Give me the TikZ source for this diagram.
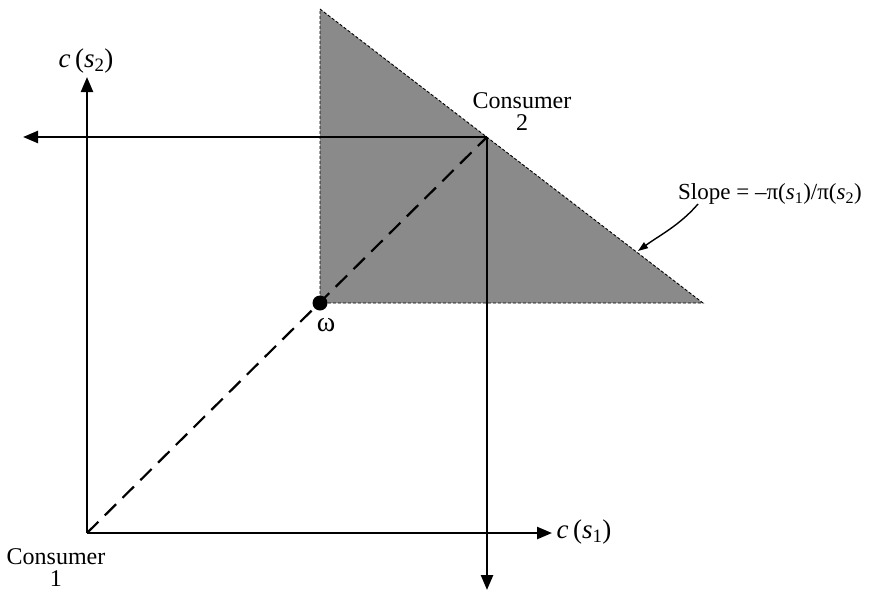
\documentclass[tikz,border=0pt]{standalone}
\usepackage{fontspec}
\setmainfont{Liberation Serif}
\usetikzlibrary{arrows.meta}
\definecolor{shade}{RGB}{138,138,138}
\tikzset{
  axis/.style={line width=2.4pt,-{Triangle[length=15pt,width=12pt]}},
  lbl/.style={font=\fontsize{24}{26}\selectfont, inner sep=0pt, align=center},
  tri/.style={fill=shade, draw=black, line width=0.9pt, dash pattern=on 3pt off 2pt},
  diag/.style={line width=2.2pt, dash pattern=on 16pt off 9pt}
}
\begin{document}
\begin{tikzpicture}[x=1pt,y=-1pt]
\useasboundingbox (0,0) rectangle (871,592);
% coordinates
\coordinate (o1) at (87,533);
\coordinate (o2) at (487,137);
\coordinate (ta) at (320,9);
\coordinate (tb) at (320,303);
\coordinate (tc) at (703,303);
\coordinate (yend) at (87,77);
\coordinate (xend) at (552,533);
\coordinate (lend) at (23,137);
\coordinate (dend) at (487,590);
% triangle
\draw[tri] (ta) -- (tc) -- (tb) -- cycle;
% axes
\draw[axis] (o1) -- (yend);
\draw[axis] (o1) -- (xend);
\draw[axis] (o2) -- (lend);
\draw[axis] (o2) -- (dend);
% diagonal
\draw[diag] (o1) -- (o2);
% endowment
\fill (tb) circle (7.5pt);
\node[lbl, font=\fontsize{28}{30}\selectfont] (wl) at (326,325) {ω};
% labels
\node[lbl, font=\fontsize{27}{29}\selectfont] (cs2) at (86,61) {\textit{c}\,(\textit{s}\textsubscript{2})};
\node[lbl, font=\fontsize{27}{29}\selectfont] (cs1) at (584,532) {\textit{c}\,(\textit{s}\textsubscript{1})};
\node[lbl] (c1) at (56,568) {Consumer\\[-4pt]1};
\node[lbl] (c2) at (522,112) {Consumer\\[-4pt]2};
\node[lbl, font=\fontsize{23}{25}\selectfont] (slope) at (770,194) {Slope = –π(\textit{s}\textsubscript{1})/π(\textit{s}\textsubscript{2})};
\coordinate (ptip) at (638,251);
\draw[line width=1.4pt,-{Triangle[length=10pt,width=7pt]}] (698,204) .. controls (680,225) and (660,235) .. (ptip);
\end{tikzpicture}
\end{document}
